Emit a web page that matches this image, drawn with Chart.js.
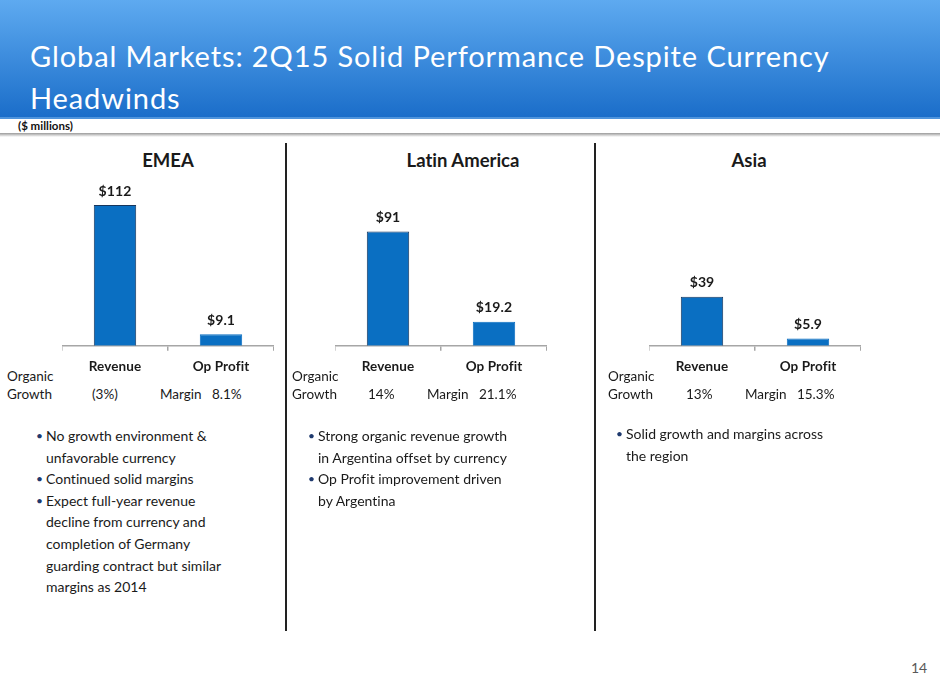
<!DOCTYPE html>
<html>
<head>
<meta charset="utf-8">
<script src="https://cdn.jsdelivr.net/npm/chart.js@4.4.1/dist/chart.umd.min.js"></script>
<style>
  html, body { margin: 0; padding: 0; background: #fff; }
  body { width: 940px; height: 686px; position: relative; overflow: hidden; font-family: Lato, "Open Sans", sans-serif; color: #1a1a1a; font-variant-ligatures: none; }
  .header { position: absolute; left: 0; top: 0; width: 940px; height: 118px; background: linear-gradient(#5eaaf0, #1a6dc9); }
  .header-edge { position: absolute; left: 0; top: 117px; width: 940px; height: 2px; background: #4f94dc; }
  .shadow { position: absolute; left: 0; top: 133px; width: 940px; height: 4px; background: linear-gradient(#9a9a9a, #fff); }
  .title { position: absolute; left: 30px; top: 35px; color: #fff; font-size: 29px; letter-spacing: 0.9px; line-height: 42px; white-space: nowrap; }
  .units { position: absolute; left: 18px; top: 119px; font-size: 11.5px; font-weight: bold; color: #111; }
  .region { position: absolute; top: 149px; font-size: 18.5px; font-weight: bold; text-align: center; color: #1a1a1a; }
  .divider { position: absolute; top: 143px; width: 2px; height: 488px; background: #222; }
  .chartbox { position: absolute; top: 180px; height: 203px; }
  .note { position: absolute; font-size: 13.5px; color: #1a1a1a; white-space: nowrap; }
  ul { position: absolute; margin: 0; padding: 0; list-style: none; font-size: 14px; line-height: 21.6px; color: #1a1a1a; }
  li { position: relative; padding-left: 9px; }
  li::before { content: "\2022"; position: absolute; left: -1px; top: 0; color: #1f3a6e; font-size: 12px; }
  .page { position: absolute; left: 911px; top: 659px; font-size: 14px; color: #595959; }
</style>
</head>
<body>
<div class="header"></div>
<div class="header-edge"></div>
<div class="title">Global Markets: 2Q15 Solid Performance Despite Currency<br>Headwinds</div>
<div class="units">($ millions)</div>
<div class="shadow"></div>

<div class="divider" style="left:285px"></div>
<div class="divider" style="left:594px"></div>

<div id="panels"></div>

<div class="page">14</div>

<script>
const categories = ['Revenue', 'Op Profit'];
const regions = ['EMEA', 'Latin America', 'Asia'];
const emeaValues = [112, 9.1];
const latamValues = [91, 19.2];
const asiaValues = [39, 5.9];
const organicGrowth = ['(3%)', '14%', '13%'];
const margins = ['8.1%', '21.1%', '15.3%'];

const emeaBullets = [
  'No growth environment &amp;<br>unfavorable currency',
  'Continued solid margins',
  'Expect full-year revenue<br>decline from currency and<br>completion of Germany<br>guarding contract but similar<br>margins as 2014'
];
const latamBullets = [
  'Strong organic revenue growth<br>in Argentina offset by currency',
  'Op Profit improvement driven<br>by Argentina'
];
const asiaBullets = [
  'Solid growth and margins across<br>the region'
];

// layout of each panel
const panels = [
  { values: emeaValues, bullets: emeaBullets, axisLeft: 62, titleCenter: 168, noteLeft: 7, growthLeft: 92, marginLeft: 160, listLeft: 37, listTop: 425 },
  { values: latamValues, bullets: latamBullets, axisLeft: 335, titleCenter: 463, noteLeft: 292, growthLeft: 368, marginLeft: 427, listLeft: 309, listTop: 425 },
  { values: asiaValues, bullets: asiaBullets, axisLeft: 649, titleCenter: 749, noteLeft: 608, growthLeft: 686, marginLeft: 745, listLeft: 617, listTop: 423 }
];

const valueLabels = {
  id: 'valueLabels',
  beforeDraw(chart) {
    // non-zero spacing keeps "fi" from turning into a ligature
    chart.ctx.letterSpacing = '0.1px';
  },
  afterDatasetsDraw(chart) {
    const ctx = chart.ctx;
    const meta = chart.getDatasetMeta(0);
    ctx.save();
    ctx.font = 'bold 14px Lato, sans-serif';
    ctx.fillStyle = '#1a1a1a';
    ctx.textAlign = 'center';
    ctx.textBaseline = 'middle';
    meta.data.forEach((bar, i) => {
      ctx.fillText('$' + chart.data.datasets[0].data[i], bar.x, bar.y - 14);
    });
    ctx.restore();
  }
};

const container = document.getElementById('panels');

function addNote(text, left, top) {
  const d = document.createElement('div');
  d.className = 'note';
  d.style.left = left + 'px';
  d.style.top = top + 'px';
  d.innerHTML = text;
  container.appendChild(d);
}

panels.forEach((p, idx) => {
  const title = document.createElement('div');
  title.className = 'region';
  title.style.left = (p.titleCenter - 100) + 'px';
  title.style.width = '200px';
  title.textContent = regions[idx];
  container.appendChild(title);

  const box = document.createElement('div');
  box.className = 'chartbox';
  box.style.left = p.axisLeft + 'px';
  box.style.width = '212px';
  const canvas = document.createElement('canvas');
  box.appendChild(canvas);
  container.appendChild(box);

  addNote('Organic', p.noteLeft, 368);
  addNote('Growth', p.noteLeft, 386);
  addNote(organicGrowth[idx], p.growthLeft, 386);
  addNote('Margin&nbsp;&nbsp;&nbsp;' + margins[idx], p.marginLeft, 386);

  const ul = document.createElement('ul');
  ul.style.left = p.listLeft + 'px';
  ul.style.top = p.listTop + 'px';
  p.bullets.forEach(b => {
    const li = document.createElement('li');
    li.innerHTML = b;
    ul.appendChild(li);
  });
  container.appendChild(ul);

  new Chart(canvas, {
    type: 'bar',
    data: {
      labels: categories,
      datasets: [{
        data: p.values,
        backgroundColor: '#0a6fc2',
        borderColor: ['#17365d', '#0a6fc2'],
        borderWidth: 1,
        categoryPercentage: 1,
        barPercentage: 0.4
      }]
    },
    options: {
      responsive: true,
      maintainAspectRatio: false,
      animation: false,
      layout: { padding: 0 },
      plugins: { legend: { display: false }, tooltip: { enabled: false } },
      scales: {
        x: {
          grid: { display: true, drawOnChartArea: false, drawTicks: true, tickLength: 5, color: '#a6a6a6', lineWidth: 1.5 },
          border: { display: true, color: '#a6a6a6', width: 1.5 },
          ticks: { color: '#1a1a1a', font: { family: 'Lato', size: 13.5, weight: 'bold' }, padding: 8 }
        },
        y: { display: false, min: 0, max: 132 }
      }
    },
    plugins: [valueLabels]
  });
});
</script>
</body>
</html>
